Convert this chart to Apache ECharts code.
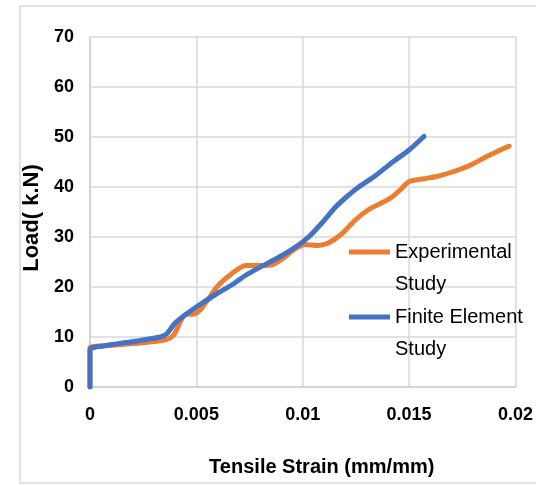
<!DOCTYPE html>
<html>
<head>
<meta charset="utf-8">
<style>html,body{margin:0;padding:0;background:#fff;}#c{width:536px;height:485px;}</style>
<script src="https://cdn.jsdelivr.net/npm/echarts@6/dist/echarts.min.js"></script>
</head>
<body>
<div id="c"></div>
<script>
// ---- data ----
const seriesNames = ['Experimental Study', 'Finite Element Study'];
const expStrain = [0, 0, 0.0006, 0.0025, 0.0035, 0.0038, 0.0040, 0.0043, 0.0045, 0.0049, 0.0052, 0.0056, 0.0060, 0.0067, 0.0073, 0.0080, 0.0086, 0.0091, 0.0096, 0.0101, 0.0107, 0.0112, 0.0118, 0.0125, 0.0131, 0.0137, 0.0142, 0.0146, 0.0150, 0.0157, 0.0163, 0.0171, 0.0179, 0.0187, 0.0197];
const expLoad   = [0, 7.85, 8.2, 8.85, 9.4, 9.85, 10.8, 13.5, 14.5, 14.6, 15.5, 17.8, 20.2, 22.8, 24.3, 24.3, 24.5, 25.8, 27.5, 28.5, 28.3, 28.8, 30.5, 33.5, 35.5, 36.8, 38.0, 39.5, 41.1, 41.65, 42.1, 43.1, 44.4, 46.2, 48.2];
const feStrain = [0, 0, 0.0006, 0.0022, 0.0033, 0.0036, 0.0040, 0.0045, 0.0051, 0.0059, 0.0067, 0.0073, 0.0081, 0.0089, 0.0097, 0.0103, 0.0109, 0.0115, 0.0120, 0.0126, 0.0134, 0.0142, 0.0150, 0.0157];
const feLoad   = [0, 7.5, 8.2, 9.2, 10.0, 10.6, 12.8, 14.5, 16.3, 18.5, 20.5, 22.3, 24.2, 26.0, 28.1, 30.1, 32.8, 35.8, 37.8, 39.9, 42.2, 44.9, 47.4, 50.1];
const xTickLabels = ['0', '0.005', '0.01', '0.015', '0.02'];
const yTickLabels = ['0', '10', '20', '30', '40', '50', '60', '70'];

const FONT = "'Liberation Sans', Arial, sans-serif";

const zip = (a, b) => a.map((v, i) => [v, b[i]]);

const chart = echarts.init(document.getElementById('c'), null, {renderer: 'canvas'});

const legendCommon = {
  orient: 'vertical',
  left: 349,
  padding: 0,
  itemWidth: 41,
  itemHeight: 5,
  icon: 'rect',
  selectedMode: false,
  // leading blank line keeps the icon level with the first text line
  formatter: n => '\n' + n.replace(' Study', '\nStudy'),
  textStyle: {fontFamily: FONT, fontSize: 20, color: '#000', lineHeight: 32}
};

chart.setOption({
  animation: false,
  color: ['#ED7D31', '#4472C4'],
  graphic: [{
    type: 'rect', silent: true, z: -10,
    shape: {x: 20, y: 6, width: 540, height: 477},
    style: {fill: 'none', stroke: '#d9d9d9', lineWidth: 1.5}
  }],
  grid: {left: 90, right: 19, top: 37, bottom: 98, containLabel: false},
  legend: [
    Object.assign({}, legendCommon, {top: 204, data: [seriesNames[0]]}),
    Object.assign({}, legendCommon, {top: 269, data: [seriesNames[1]]})
  ],
  xAxis: {
    type: 'value', min: 0, max: 0.02, interval: 0.005,
    name: 'Tensile Strain (mm/mm)', nameLocation: 'middle', nameGap: 70,
    nameTextStyle: {fontFamily: FONT, fontSize: 20, fontWeight: 'bold', color: '#000', padding: [0, 0, 0, 38]},
    axisLine: {show: true, lineStyle: {color: '#d0d0d0', width: 1.5}},
    axisTick: {show: false},
    splitLine: {show: true, lineStyle: {color: '#d9d9d9', width: 1.5}},
    axisLabel: {
      margin: 19, fontFamily: FONT, fontSize: 18, fontWeight: 'bold', color: '#000',
      formatter: v => xTickLabels[Math.round(v / 0.005)]
    }
  },
  yAxis: {
    type: 'value', min: 0, max: 70, interval: 10,
    name: 'Load( k.N)', nameLocation: 'middle', nameGap: 37, nameRotate: 90,
    nameTextStyle: {fontFamily: FONT, fontSize: 22, fontWeight: 'bold', color: '#000', padding: [0, 12, 0, 0]},
    axisLine: {show: true, lineStyle: {color: '#d0d0d0', width: 1.5}},
    axisTick: {show: false},
    splitLine: {show: true, lineStyle: {color: '#d9d9d9', width: 1.5}},
    axisLabel: {
      margin: 16, fontFamily: FONT, fontSize: 18, fontWeight: 'bold', color: '#000',
      formatter: v => yTickLabels[Math.round(v / 10)]
    }
  },
  series: [
    {
      name: seriesNames[0], type: 'line', data: zip(expStrain, expLoad),
      showSymbol: false, symbol: 'none', smooth: 0.2,
      lineStyle: {width: 5, color: '#ED7D31', cap: 'round', join: 'round'},
      itemStyle: {color: '#ED7D31'}
    },
    {
      name: seriesNames[1], type: 'line', data: zip(feStrain, feLoad),
      showSymbol: false, symbol: 'none', smooth: 0.2,
      lineStyle: {width: 5, color: '#4472C4', cap: 'round', join: 'round'},
      itemStyle: {color: '#4472C4'}
    }
  ]
});
</script>
</body>
</html>
